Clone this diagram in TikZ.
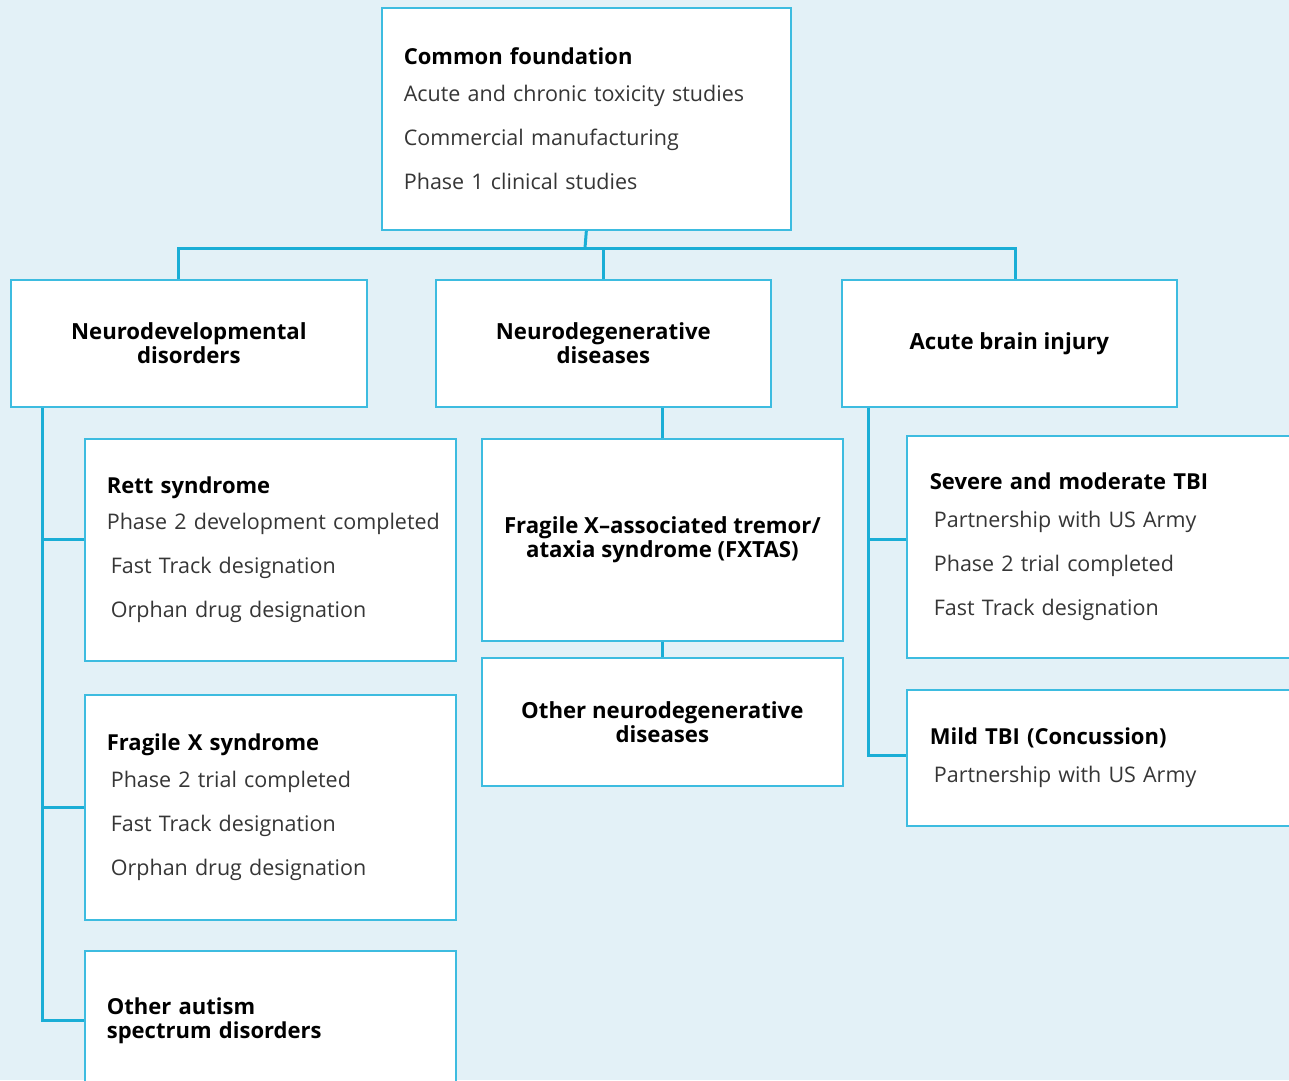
\documentclass[tikz,border=0pt]{standalone}
\usepackage{fontspec}
\setmainfont{Open Sans}
\usetikzlibrary{positioning}
\definecolor{PaleSky}{HTML}{E3F1F7}
\definecolor{Cyan}{HTML}{1AAED6}
\definecolor{CyanEdge}{HTML}{3DBCE0}
\definecolor{Ink}{HTML}{363636}

\begin{document}
\begin{tikzpicture}[
    x=1pt, y=-1pt,
    card/.style={draw=CyanEdge, line width=1.7pt, fill=white, anchor=north west,
        inner xsep=22pt, inner ysep=0pt, align=left, text=Ink,
        font=\fontsize{21.5}{44}\selectfont},
    hdr/.style={draw=CyanEdge, line width=1.7pt, fill=white, anchor=north west,
        inner sep=0pt, align=center, text=black,
        font=\fontsize{22.2}{24}\selectfont\bfseries},
    link/.style={draw=Cyan, line width=3pt},
    every node/.style={font=\normalsize}
]
\newcommand{\ttl}[1]{{\fontsize{22}{44}\selectfont\bfseries\color{black}#1}}

\useasboundingbox (0,0) rectangle (1289,1080);
\fill[PaleSky] (0,0) rectangle (1289,1080);

% =============================================
% TOP: common foundation
% =============================================
\node[card, minimum width=409pt, minimum height=222pt, text width=365pt] (found) at (381,7) {
    \ttl{Common foundation}\\[-7pt]
    Acute and chronic toxicity studies\\
    Commercial manufacturing\\
    Phase 1 clinical studies};

% =============================================
% Areas
% =============================================
\node[hdr, minimum width=356pt, minimum height=127pt] (dev) at (10,279) {Neurodevelopmental\\disorders};
\node[hdr, minimum width=335pt, minimum height=127pt] (degen) at (435,279) {Neurodegenerative\\diseases};
\node[hdr, minimum width=335pt, minimum height=127pt] (acute) at (841,279) {Acute brain injury};

% =============================================
% LEFT: neurodevelopmental
% =============================================
\node[card, minimum width=371pt, minimum height=222pt, text width=327pt] (rett) at (84,438) {
    \ttl{Rett syndrome}\\[-8pt]
    \mbox{Phase 2 development completed}\\
    \hspace*{4pt}Fast Track designation\\
    \hspace*{4pt}Orphan drug designation};
\node[card, minimum width=371pt, minimum height=225pt, text width=327pt] (fragx) at (84,694) {
    \ttl{Fragile X syndrome}\\[-7pt]
    \hspace*{4pt}Phase 2 trial completed\\
    \hspace*{4pt}Fast Track designation\\
    \hspace*{4pt}Orphan drug designation};
\node[card, minimum width=371pt, minimum height=140pt, text width=327pt,
    font=\fontsize{22}{24}\selectfont\bfseries, text=black] (autism) at (84,950) {
    Other autism\\spectrum disorders};

% =============================================
% MIDDLE: neurodegenerative
% =============================================
\node[hdr, minimum width=361pt, minimum height=202pt] (fxtas) at (481,438) {Fragile X–associated tremor/\\ataxia syndrome (FXTAS)};
\node[hdr, minimum width=361pt, minimum height=128pt] (otherdeg) at (481,657) {Other neurodegenerative\\diseases};

% =============================================
% RIGHT: acute brain injury
% =============================================
\node[card, minimum width=420pt, minimum height=222pt, text width=374pt, inner xsep=23pt] (severe) at (906,435) {
    \ttl{Severe and moderate TBI}\\[-6pt]
    \hspace*{4pt}Partnership with US Army\\
    \hspace*{4pt}Phase 2 trial completed\\
    \hspace*{4pt}Fast Track designation};
\node[card, minimum width=420pt, minimum height=136pt, text width=374pt, inner xsep=23pt] (mild) at (906,689) {
    \ttl{Mild TBI (Concussion)}\\[-6pt]
    \hspace*{4pt}Partnership with US Army};

% connectors
\coordinate (bus) at (585,248);
\draw[link] (found.south) -- (bus);
\draw[link] ([xshift=-10pt]dev.north) |- (bus) -| ([xshift=6pt]acute.north);
\draw[link] (degen.north) -- (degen.north |- bus);

\coordinate (devtrunk) at ([xshift=32pt]dev.south west);
\coordinate (rettin) at ([yshift=10pt]rett.west);
\draw[link] (devtrunk) |- (autism.west);
\draw[link] (rettin) -- (devtrunk |- rettin);
\draw[link] (fragx.west) -- (devtrunk |- fragx.west);

\draw[link] (fxtas.north) -- (fxtas.north |- degen.south);
\draw[link] (fxtas.south) -- (otherdeg.north);

\coordinate (acutetrunk) at ([xshift=27pt]acute.south west);
\coordinate (severein) at ([yshift=7pt]severe.west);
\coordinate (mildin) at ([yshift=2pt]mild.west);
\draw[link] (acutetrunk) |- (mildin);
\draw[link] (severein) -- (acutetrunk |- severein);

\end{tikzpicture}
\end{document}
